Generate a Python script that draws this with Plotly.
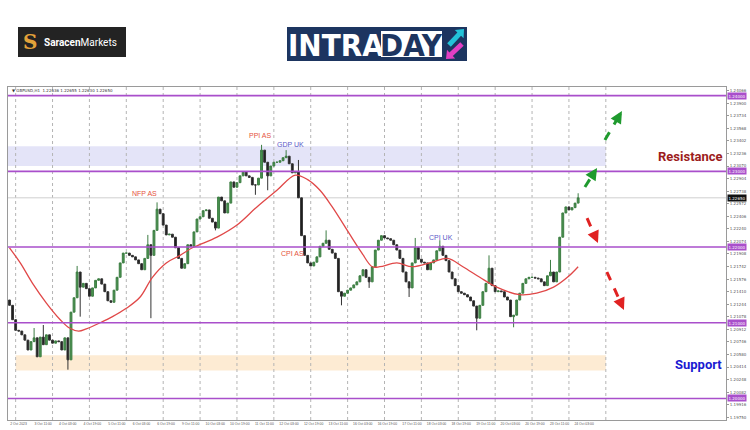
import plotly.graph_objects as go

# ------------------------------------------------------------------ data
# one candle per two hourly bars, closes
close = [
    1.2123, 1.2104, 1.2090, 1.2089, 1.2084, 1.2077, 1.2064, 1.2075, 1.2080, 1.2055,
    1.2081, 1.2071, 1.2084, 1.2077, 1.2073, 1.2076, 1.2075, 1.2064, 1.2080, 1.2051,
    1.2114, 1.2133, 1.2167, 1.2147, 1.2152, 1.2145, 1.2135, 1.2146, 1.2156, 1.2158,
    1.2151, 1.2141, 1.2129, 1.2127, 1.2143, 1.2160, 1.2179, 1.2192, 1.2192, 1.2189,
    1.2187, 1.2183, 1.2178, 1.2170, 1.2185, 1.2203, 1.2189, 1.2222, 1.2250, 1.2244,
    1.2229, 1.2216, 1.2217, 1.2213, 1.2199, 1.2185, 1.2172, 1.2178, 1.2203, 1.2201,
    1.2220, 1.2237, 1.2240, 1.2248, 1.2249, 1.2238, 1.2233, 1.2225, 1.2266, 1.2261,
    1.2245, 1.2258, 1.2286, 1.2279, 1.2285, 1.2294, 1.2299, 1.2294, 1.2292, 1.2282,
    1.2282, 1.2291, 1.2328, 1.2312, 1.2294, 1.2307, 1.2312, 1.2312, 1.2314, 1.2318,
    1.2320, 1.2310, 1.2298, 1.2299, 1.2265, 1.2215, 1.2189, 1.2179, 1.2175, 1.2180,
    1.2187, 1.2201, 1.2205, 1.2209, 1.2197, 1.2192, 1.2185, 1.2141, 1.2135, 1.2139,
    1.2143, 1.2146, 1.2150, 1.2154, 1.2162, 1.2170, 1.2160, 1.2154, 1.2174, 1.2196,
    1.2209, 1.2215, 1.2212, 1.2211, 1.2209, 1.2203, 1.2196, 1.2185, 1.2167, 1.2154,
    1.2146, 1.2179, 1.2199, 1.2184, 1.2180, 1.2179, 1.2170, 1.2179, 1.2183, 1.2195,
    1.2201, 1.2189, 1.2182, 1.2167, 1.2158, 1.2149, 1.2141, 1.2139, 1.2137, 1.2134,
    1.2129, 1.2122, 1.2106, 1.2123, 1.2141, 1.2152, 1.2172, 1.2149, 1.2141, 1.2142,
    1.2141, 1.2134, 1.2130, 1.2108, 1.2110, 1.2130, 1.2139, 1.2152, 1.2158, 1.2160,
    1.2160, 1.2159, 1.2158, 1.2154, 1.2149, 1.2162, 1.2167, 1.2154, 1.2167, 1.2213,
    1.2245, 1.2253, 1.2249, 1.2252, 1.2258, 1.2265,
]
first_open = 1.2130
spike_high = {8: 1.2093, 11: 1.2097, 22: 1.2175, 45: 1.2216, 48: 1.2259, 82: 1.2335,
              90: 1.2328, 94: 1.2315, 103: 1.2222, 132: 1.2212, 140: 1.2209,
              156: 1.2189, 176: 1.2183, 185: 1.2271}
spike_low = {19: 1.2038, 23: 1.2108, 46: 1.2106, 67: 1.2222, 80: 1.2269, 84: 1.2275,
             108: 1.2123, 117: 1.2146, 130: 1.2134, 152: 1.2090, 164: 1.2094}
bars_per_candle = 2

# red moving average (bar index, price)
ma_bar = [0, 7, 15, 24, 33, 39, 45, 50, 59, 67, 76, 85, 93, 102, 111, 119, 135, 148,
          161, 174, 186, 194, 202, 210, 221, 229, 236, 241, 252, 262, 275, 285, 295,
          306, 317, 332, 343, 354, 363, 370]
ma_val = [1.2199, 1.2179, 1.2152, 1.2126, 1.2104, 1.2093, 1.2089, 1.2092, 1.2100,
          1.2108, 1.2119, 1.2134, 1.2160, 1.2179, 1.2189, 1.2199, 1.2213, 1.2229,
          1.2253, 1.2275, 1.2295, 1.2289, 1.2275, 1.2253, 1.2218, 1.2193, 1.2174,
          1.2174, 1.2179, 1.2174, 1.2180, 1.2185, 1.2174, 1.2160, 1.2147, 1.2137,
          1.2139, 1.2147, 1.2160, 1.2174]

x_labels = ["2 Oct 2023", "3 Oct 11:00", "4 Oct 03:00", "4 Oct 19:00", "5 Oct 11:00",
            "6 Oct 03:00", "6 Oct 19:00", "9 Oct 11:00", "10 Oct 03:00", "10 Oct 19:00",
            "11 Oct 11:00", "12 Oct 03:00", "12 Oct 19:00", "13 Oct 11:00", "16 Oct 03:00",
            "16 Oct 19:00", "17 Oct 11:00", "18 Oct 03:00", "18 Oct 19:00", "19 Oct 11:00",
            "20 Oct 03:00", "20 Oct 19:00", "23 Oct 11:00", "24 Oct 03:00"]
x_label_bars = [0, 16, 32, 48, 64, 80, 96, 112, 128, 144, 160, 176, 192, 208, 224,
                240, 256, 272, 288, 304, 320, 336, 352, 368]
grid_bars = [4, 28, 52, 76, 100, 124, 148, 172, 196, 220, 244, 268, 292, 316, 340,
             364, 388]

y_ticks = [1.19750, 1.19916, 1.20082, 1.20248, 1.20414, 1.20580, 1.20746, 1.20912,
           1.21078, 1.21244, 1.21410, 1.21576, 1.21742, 1.21908, 1.22074, 1.22240,
           1.22406, 1.22572, 1.22738, 1.22904, 1.23070, 1.23236, 1.23402, 1.23568,
           1.23734, 1.23900, 1.24066]

levels = [1.2000, 1.2100, 1.2200, 1.2300, 1.2400]
resistance_zone = [1.2307, 1.2333]
support_zone = [1.2037, 1.2057]

events = [("NFP AS", 88, 1.2271, "#e5533d"), ("PPI AS", 163, 1.2347, "#e5533d"),
          ("GDP UK", 183, 1.2336, "#5a5ac8"), ("CPI AS", 184, 1.2192, "#e5533d"),
          ("CPI UK", 281, 1.2213, "#5a5ac8")]

header = "\u25BC GBPUSD,H1  1.22636 1.22655 1.22630 1.22650"

# ------------------------------------------------------------------ geometry helpers
X0, X1 = -0.98, 466.2
Y0, Y1 = 1.19715, 1.24114
PL, PR, PT, PB = 8, 726, 87, 420


def px(xp):
    return (xp - PL) / (PR - PL)


def py(yp):
    return (PB - yp) / (PB - PT)


bars = [k * bars_per_candle for k in range(len(close))]
opens = [first_open] + close[:-1]
highs = [max(o, c, spike_high.get(k, 0)) for k, (o, c) in enumerate(zip(opens, close))]
lows = [min(o, c, spike_low.get(k, 9)) for k, (o, c) in enumerate(zip(opens, close))]

fig = go.Figure()
fig.add_trace(go.Candlestick(
    x=bars, open=opens, high=highs, low=lows, close=close,
    increasing=dict(line=dict(color="#3d7d43", width=1), fillcolor="#4a9450"),
    decreasing=dict(line=dict(color="#333333", width=1), fillcolor="#1e1e1e"),
    hoverinfo="skip", showlegend=False))
fig.add_trace(go.Scatter(x=ma_bar, y=ma_val, mode="lines",
                         line=dict(color="#e04848", width=1.3, shape="spline"),
                         hoverinfo="skip", showlegend=False))

shapes = []
# zones
shapes.append(dict(type="rect", xref="x", yref="y", x0=X0, x1=grid_bars[-1],
                   y0=resistance_zone[0], y1=resistance_zone[1],
                   fillcolor="#e4e4f8", line=dict(width=0), layer="below"))
shapes.append(dict(type="rect", xref="x", yref="y", x0=grid_bars[0], x1=grid_bars[-1],
                   y0=support_zone[0], y1=support_zone[1],
                   fillcolor="#fdebd3", line=dict(width=0), layer="below"))
# vertical dotted grid
for g in grid_bars:
    shapes.append(dict(type="line", xref="x", yref="y", x0=g, x1=g, y0=Y0, y1=Y1,
                       line=dict(color="#b4b4b4", width=1, dash="dot"), layer="below"))
# current price line
shapes.append(dict(type="line", xref="x", yref="y", x0=X0, x1=X1, y0=close[-1],
                   y1=close[-1], line=dict(color="#cfcfcf", width=1), layer="below"))
# horizontal levels
for lv in levels:
    shapes.append(dict(type="line", xref="x", yref="y", x0=X0, x1=X1, y0=lv, y1=lv,
                       line=dict(color="#a94fcb", width=1.6)))

annotations = []

# scenario arrows (dashed body + arrow head)
arrows = [((374.4, 1.22793), (382.3, 1.23044), "#1f9a2e"),
          ((387.4, 1.23413), (398.5, 1.23796), "#1f9a2e"),
          ((375.8, 1.22383), (382.9, 1.22053), "#e02222"),
          ((388.7, 1.21670), (399.8, 1.21168), "#e02222")]
for (xa, ya), (xb, yb), col in arrows:
    xm = xa + (xb - xa) * 0.75
    ym = ya + (yb - ya) * 0.75
    shapes.append(dict(type="line", xref="x", yref="y", x0=xa, y0=ya, x1=xm, y1=ym,
                       line=dict(color=col, width=3, dash="dash")))
    annotations.append(dict(x=xb, y=yb, ax=xm, ay=ym, xref="x", yref="y", axref="x",
                            ayref="y", text="", showarrow=True, arrowhead=2,
                            arrowsize=0.8, arrowwidth=3, arrowcolor=col, standoff=0))

# level labels on the price axis
for lv in levels:
    annotations.append(dict(x=1, xref="paper", y=lv, yref="y", xanchor="left",
                            yanchor="middle", xshift=1, text=f"{lv:.5f}",
                            showarrow=False, bgcolor="#a94fcb", borderpad=0.5,
                            font=dict(size=4, color="white", family="DejaVu Sans")))
annotations.append(dict(x=1, xref="paper", y=close[-1], yref="y", xanchor="left",
                        yanchor="middle", xshift=1, text=f"{close[-1]:.5f}",
                        showarrow=False, bgcolor="#111111", borderpad=0.5,
                        font=dict(size=4, color="white", family="DejaVu Sans")))

# header
annotations.append(dict(x=px(10), y=py(90), xref="paper", yref="paper", xanchor="left",
                        yanchor="middle", text=header, showarrow=False,
                        font=dict(size=4, color="#333", family="DejaVu Sans")))

# events
for txt, xb, yv, col in events:
    annotations.append(dict(x=xb, y=yv, xref="x", yref="y", text=txt, showarrow=False,
                            xanchor="center", yanchor="middle",
                            font=dict(size=7, color=col, family="Liberation Sans")))

annotations.append(dict(x=442.8, y=1.23202, xref="x", yref="y", text="<b>Resistance</b>",
                        showarrow=False, xanchor="center", yanchor="middle",
                        font=dict(size=13, color="#9c1c1c", family="Roboto")))
annotations.append(dict(x=448.6, y=1.20454, xref="x", yref="y", text="<b>Support</b>",
                        showarrow=False, xanchor="center", yanchor="middle",
                        font=dict(size=13, color="#1a1ad2", family="Roboto")))

# ---------------- logos
shapes.append(dict(type="rect", xref="paper", yref="paper", x0=px(18), x1=px(126),
                   y0=py(57), y1=py(27), fillcolor="#232323", line=dict(width=0)))
annotations.append(dict(x=px(30), y=py(42), xref="paper", yref="paper", text="<b>S</b>",
                        showarrow=False, xanchor="center", yanchor="middle",
                        font=dict(size=20, color="#e2a23a", family="DejaVu Serif")))
annotations.append(dict(x=px(42), y=py(42), xref="paper", yref="paper", xanchor="left",
                        yanchor="middle", text="<b>Saracen</b>Markets", showarrow=False,
                        font=dict(size=10, color="white", family="Roboto")))

shapes.append(dict(type="rect", xref="paper", yref="paper", x0=px(287), x1=px(467),
                   y0=py(61), y1=py(27), fillcolor="#1d3560", line=dict(width=0)))
shapes.append(dict(type="rect", xref="paper", yref="paper", x0=px(381), x1=px(442),
                   y0=py(57), y1=py(31), fillcolor="white", line=dict(width=0)))
annotations.append(dict(x=px(336), y=py(44.5), xref="paper", yref="paper",
                        text="<b>INTRA</b>", showarrow=False,
                        xanchor="center", yanchor="middle",
                        font=dict(size=31, color="white",
                                  family="Liberation Sans Narrow, DejaVu Sans Condensed, sans-serif")))
annotations.append(dict(x=px(411.5), y=py(44.5), xref="paper", yref="paper",
                        text="<b>DAY</b>", showarrow=False,
                        xanchor="center", yanchor="middle",
                        font=dict(size=31, color="#1d3560",
                                  family="Liberation Sans Narrow, DejaVu Sans Condensed, sans-serif")))


def arrow_path(tail, tip, shaft, head, head_len):
    (x0, y0), (x1, y1) = tail, tip
    dx, dy = x1 - x0, y1 - y0
    ln = (dx * dx + dy * dy) ** 0.5
    ux, uy = dx / ln, dy / ln
    nx, ny = -uy, ux
    bx, by = x1 - ux * head_len, y1 - uy * head_len
    pts = [(x0 + nx * shaft / 2, y0 + ny * shaft / 2),
           (bx + nx * shaft / 2, by + ny * shaft / 2),
           (bx + nx * head / 2, by + ny * head / 2),
           (x1, y1),
           (bx - nx * head / 2, by - ny * head / 2),
           (bx - nx * shaft / 2, by - ny * shaft / 2),
           (x0 - nx * shaft / 2, y0 - ny * shaft / 2)]
    return "M " + " L ".join(f"{px(a):.5f},{py(b):.5f}" for a, b in pts) + " Z"


shapes.append(dict(type="path", xref="paper", yref="paper",
                   path=arrow_path((449, 45), (464, 29), 5, 12, 7),
                   fillcolor="#23c3d8", line=dict(width=0)))
shapes.append(dict(type="path", xref="paper", yref="paper",
                   path=arrow_path((462, 44), (446, 59), 5, 12, 7),
                   fillcolor="#e23fc3", line=dict(width=0)))

fig.update_layout(
    width=750, height=430,
    margin=dict(l=PL, r=750 - PR, t=PT, b=430 - PB),
    paper_bgcolor="white", plot_bgcolor="white",
    showlegend=False, boxgap=0.15,
    shapes=shapes, annotations=annotations,
    xaxis=dict(range=[X0, X1], rangeslider=dict(visible=False), showgrid=False,
               zeroline=False, tickvals=x_label_bars, ticktext=x_labels,
               tickangle=0, automargin=False,
               ticklabelshift=9, tickfont=dict(size=3.4, color="#555", family="Liberation Sans"),
               ticks="", showline=True, linecolor="#9a9a9a", linewidth=1, mirror=True),
    yaxis=dict(range=[Y0, Y1], side="right", showgrid=False, zeroline=False,
               automargin=False,
               tickvals=y_ticks, ticktext=[f"{v:.5f}" for v in y_ticks],
               tickfont=dict(size=4, color="#555", family="DejaVu Sans"),
               ticks="outside", ticklen=2, tickcolor="#999",
               showline=True, linecolor="#9a9a9a", linewidth=1, mirror=True),
)

fig.write_html("out.html", config={"displayModeBar": False},
               post_script="document.body.style.margin='0px';")
